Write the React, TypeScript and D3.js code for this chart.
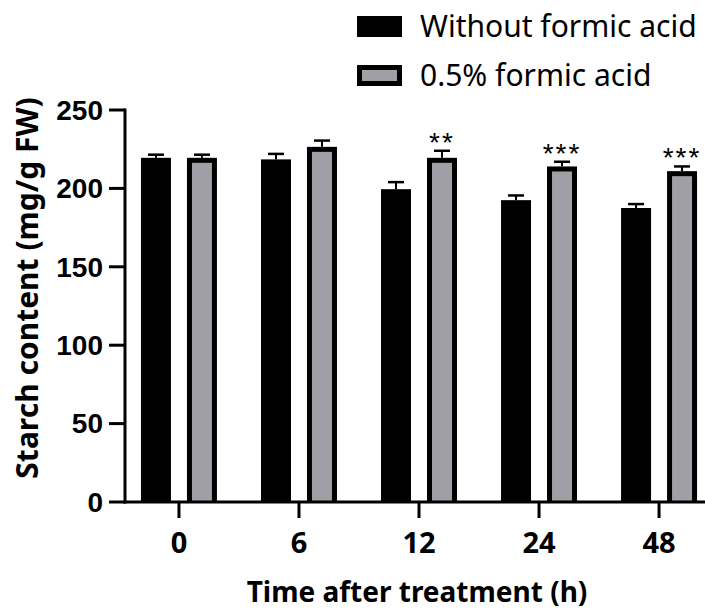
import React from 'react';
import * as d3 from 'd3';

const categories = ['0', '6', '12', '24', '48'];
const seriesNames = ['Without formic acid', '0.5% formic acid'];
const withoutValues = [219.5, 218.5, 199.5, 192.5, 187.5];
const withoutErrors = [2, 3.5, 4.5, 3, 2.5];
const formicValues = [219.5, 226.5, 219.5, 214, 211];
const formicErrors = [2, 4, 4.5, 3, 3];
const significance = ['', '', '**', '***', '***'];
const yTicks = [0, 50, 100, 150, 200, 250];

const W = 705;
const H = 610;
const GRAY = '#a09fa5';
const BORDER = 5;

export default function App() {
  const y = d3.scaleLinear().domain([0, 250]).range([502, 110]);
  const x0 = d3
    .scaleBand<string>()
    .domain(categories)
    .range([125, 713])
    .paddingInner(0.367)
    .paddingOuter(0.133);
  const x1 = d3
    .scaleBand<string>()
    .domain(['without', 'formic'])
    .range([0, x0.bandwidth()])
    .paddingInner(0.348);
  const bw = x1.bandwidth();
  const base = y(0);

  const errBar = (cx: number, v: number, e: number, key: string) => (
    <g key={key}>
      <line x1={cx} x2={cx} y1={y(v)} y2={y(v + e)} stroke="#000" strokeWidth={2} />
      <line x1={cx - 8} x2={cx + 8} y1={y(v + e)} y2={y(v + e)} stroke="#000" strokeWidth={2.5} />
    </g>
  );

  return (
    <svg
      width={W}
      height={H}
      style={{ position: 'absolute', left: 0, top: 0, background: '#fff' }}
    >
      <rect x={0} y={0} width={W} height={H} fill="#fff" />
      {/* bars */}
      {categories.map((c, i) => {
        const gx = x0(c)!;
        const xa = gx + x1('without')!;
        const xb = gx + x1('formic')!;
        const va = withoutValues[i];
        const vb = formicValues[i];
        return (
          <g key={c}>
            {errBar(xa + bw / 2, va, withoutErrors[i], 'ea')}
            <rect x={xa} y={y(va)} width={bw} height={base - y(va)} fill="#000" />
            {errBar(xb + bw / 2, vb, formicErrors[i], 'eb')}
            <rect x={xb} y={y(vb)} width={bw} height={base - y(vb)} fill="#000" />
            <rect
              x={xb + BORDER}
              y={y(vb) + BORDER}
              width={bw - 2 * BORDER}
              height={base - y(vb) - BORDER}
              fill={GRAY}
            />
            {significance[i] && (
              <text
                x={xb + bw / 2}
                y={y(vb + formicErrors[i]) + 1}
                textAnchor="middle"
                fontFamily="'Liberation Sans', Arial, sans-serif"
                fontSize={28}
                letterSpacing={2}
                fill="#000"
              >
                {significance[i]}
              </text>
            )}
          </g>
        );
      })}
      {/* y axis */}
      <line x1={125} x2={125} y1={y(250) - 1.5} y2={base + 1.5} stroke="#000" strokeWidth={3} />
      {yTicks.map((t) => (
        <g key={t}>
          <line x1={109} x2={125} y1={y(t)} y2={y(t)} stroke="#000" strokeWidth={3} />
          <text
            x={103}
            y={y(t)}
            dy="0.35em"
            textAnchor="end"
            fontFamily="'Liberation Sans', Arial, sans-serif"
            fontWeight="bold"
            fontSize={28}
            fill="#000"
          >
            {t}
          </text>
        </g>
      ))}
      {/* x axis */}
      <line x1={123.5} x2={W} y1={base} y2={base} stroke="#000" strokeWidth={3} />
      {categories.map((c) => {
        const cx = x0(c)! + x0.bandwidth() / 2;
        return (
          <g key={c}>
            <line x1={cx} x2={cx} y1={base} y2={518} stroke="#000" strokeWidth={3} />
            <text
              x={cx}
              y={553}
              textAnchor="middle"
              fontFamily="'Noto Sans', sans-serif"
              fontWeight="bold"
              fontSize={29}
              fill="#000"
            >
              {c}
            </text>
          </g>
        );
      })}
      {/* axis titles */}
      <text
        x={417}
        y={602}
        textAnchor="middle"
        fontFamily="'Noto Sans', sans-serif"
        fontWeight="bold"
        fontSize={28}
        fill="#000"
      >
        Time after treatment (h)
      </text>
      <text
        transform={`translate(38, 288) rotate(-90)`}
        textAnchor="middle"
        fontFamily="'Noto Sans', sans-serif"
        fontWeight="bold"
        fontSize={30}
        fill="#000"
      >
        Starch content (mg/g FW)
      </text>
      {/* legend */}
      <rect x={357} y={16} width={45} height={21} fill="#000" />
      <text x={420} y={37} fontFamily="'Noto Sans', sans-serif" fontSize={30} fill="#000">
        {seriesNames[0]}
      </text>
      <rect x={357} y={65} width={45} height={21} fill="#000" />
      <rect x={357 + BORDER} y={65 + BORDER} width={45 - 2 * BORDER} height={21 - 2 * BORDER} fill={GRAY} />
      <text x={420} y={86} fontFamily="'Noto Sans', sans-serif" fontSize={30} fill="#000">
        {seriesNames[1]}
      </text>
    </svg>
  );
}
